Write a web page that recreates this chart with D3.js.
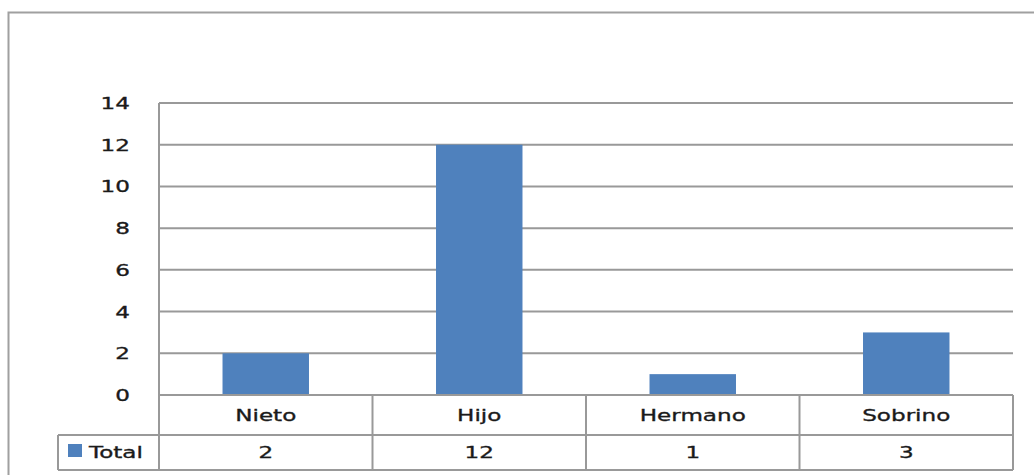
<!DOCTYPE html>
<html>
<head>
<meta charset="utf-8">
<script src="https://cdn.jsdelivr.net/npm/d3@7"></script>
<style>
  body { margin: 0; background: #fff; }
  text { font-family: Verdana, "DejaVu Sans", sans-serif; font-size: 16.5px; fill: #1a1a1a; stroke: #1a1a1a; stroke-width: 0.35px; }
</style>
</head>
<body>
<svg id="chart" width="1034" height="475"></svg>
<script>
const categories = ["Nieto", "Hijo", "Hermano", "Sobrino"];
const totals = [2, 12, 1, 3];
const yTicks = [0, 2, 4, 6, 8, 10, 12, 14];
const seriesName = "Total";

const svg = d3.select("#chart");
const gridColor = "#999";
const barColor = "#4f81bd";
const stretch = 1.4; // source picture is stretched sideways

const plotLeft = 159, plotRight = 1013, plotTop = 103, zeroY = 395;
const row1 = 435, row2 = 470, legendLeft = 58;

// place text, stretched horizontally like the original
function put(sel, fx, fy) {
  sel.attr("transform", (d, i) => `translate(${fx(d, i)},${fy(d, i)}) scale(${stretch},1)`)
    .attr("dy", "0.36em");
}

// outer chart frame (runs past the window on right and bottom)
svg.append("rect")
  .attr("x", 8.5).attr("y", 12.5)
  .attr("width", 1100).attr("height", 500)
  .attr("fill", "none").attr("stroke", "#a0a0a0").attr("stroke-width", 2);

const x = d3.scaleBand().domain(categories).range([plotLeft, plotRight]).paddingInner(0).paddingOuter(0);
const y = d3.scaleLinear().domain([0, 14]).range([zeroY, plotTop]);

// gridlines
svg.append("g").selectAll("line")
  .data(yTicks)
  .enter().append("line")
  .attr("x1", plotLeft).attr("x2", plotRight)
  .attr("y1", d => y(d)).attr("y2", d => y(d))
  .attr("stroke", gridColor).attr("stroke-width", 2);

// vertical axis line
svg.append("line")
  .attr("x1", plotLeft).attr("x2", plotLeft)
  .attr("y1", plotTop).attr("y2", row2)
  .attr("stroke", gridColor).attr("stroke-width", 2);

// tick labels
svg.append("g").selectAll("text")
  .data(yTicks)
  .enter().append("text")
  .attr("text-anchor", "end")
  .text(d => d)
  .call(put, () => 130, d => y(d));

// bars
const barW = x.bandwidth() * 0.405;
svg.append("g").selectAll("rect")
  .data(totals)
  .enter().append("rect")
  .attr("x", (d, i) => x(categories[i]) + x.bandwidth() / 2 - barW / 2)
  .attr("width", barW)
  .attr("y", d => y(d))
  .attr("height", d => zeroY - y(d))
  .attr("fill", barColor);

// data table
const tbl = svg.append("g");
tbl.append("line").attr("x1", plotLeft).attr("x2", plotRight).attr("y1", zeroY).attr("y2", zeroY)
  .attr("stroke", gridColor).attr("stroke-width", 2);
tbl.append("line").attr("x1", legendLeft).attr("x2", plotRight).attr("y1", row1).attr("y2", row1)
  .attr("stroke", gridColor).attr("stroke-width", 2);
tbl.append("line").attr("x1", legendLeft).attr("x2", plotRight).attr("y1", row2).attr("y2", row2)
  .attr("stroke", gridColor).attr("stroke-width", 2);
tbl.append("line").attr("x1", legendLeft).attr("x2", legendLeft).attr("y1", row1).attr("y2", row2)
  .attr("stroke", gridColor).attr("stroke-width", 2);
tbl.selectAll(".vdiv")
  .data(categories)
  .enter().append("line")
  .attr("x1", d => x(d) + x.bandwidth()).attr("x2", d => x(d) + x.bandwidth())
  .attr("y1", zeroY).attr("y2", row2)
  .attr("stroke", gridColor).attr("stroke-width", 2);

tbl.selectAll(".cat")
  .data(categories)
  .enter().append("text")
  .attr("text-anchor", "middle")
  .text(d => d)
  .call(put, d => x(d) + x.bandwidth() / 2, () => (zeroY + row1) / 2);

tbl.selectAll(".val")
  .data(totals)
  .enter().append("text")
  .attr("text-anchor", "middle")
  .text(d => d)
  .call(put, (d, i) => x(categories[i]) + x.bandwidth() / 2, () => (row1 + row2) / 2);

// legend key
tbl.append("rect")
  .attr("x", 68).attr("y", 444).attr("width", 14).attr("height", 13)
  .attr("fill", barColor);
tbl.append("text")
  .datum(seriesName)
  .text(d => d)
  .call(put, () => 89, () => (row1 + row2) / 2);
</script>
</body>
</html>
